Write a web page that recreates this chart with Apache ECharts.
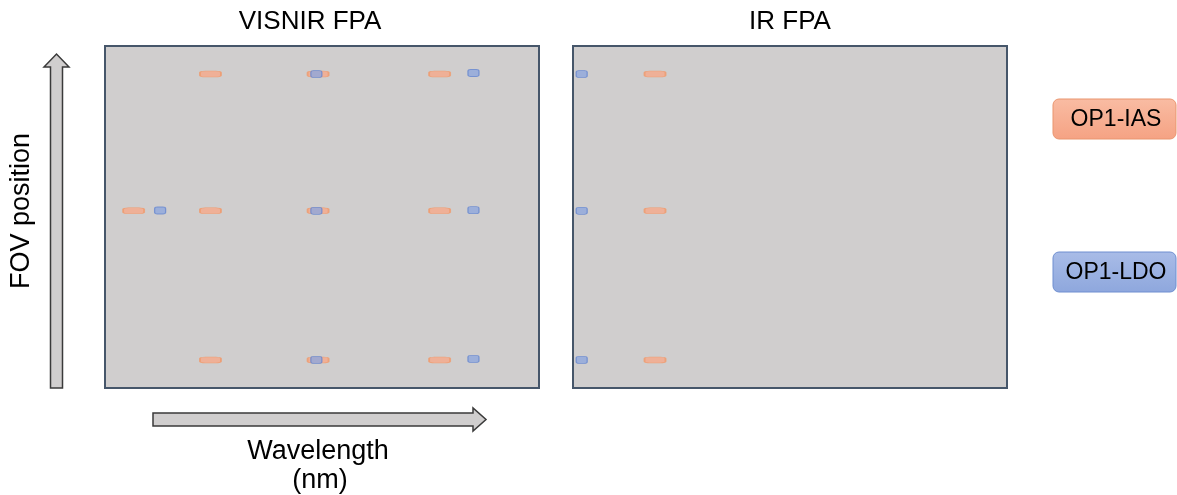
<!DOCTYPE html>
<html>
<head>
<meta charset="utf-8">
<script src="https://cdn.jsdelivr.net/npm/echarts@6/dist/echarts.min.js"></script>
<style>
html,body{margin:0;padding:0;background:#fff;}
#chart{width:1177px;height:495px;}
</style>
</head>
<body>
<div id="chart"></div>
<script>
// Relative positions on each focal plane array (0-100 across, 0-100 along FOV)
const panelTitles = ['VISNIR FPA', 'IR FPA'];
const legendLabels = ['OP1-IAS', 'OP1-LDO'];
// VISNIR FPA
const visnirIasX = [24.3, 49.1, 77.1, 6.6, 24.3, 49.1, 77.1, 24.3, 49.1, 77.1];
const visnirIasY = [91.8, 91.8, 91.8, 51.8, 51.8, 51.8, 51.8, 8.2, 8.2, 8.2];
const visnirLdoX = [48.7, 84.9, 12.7, 48.7, 84.9, 48.7, 84.9];
const visnirLdoY = [91.8, 92.1, 51.9, 51.8, 52.0, 8.2, 8.5];
// IR FPA
const irIasX = [18.9, 18.9, 18.9];
const irIasY = [91.8, 51.8, 8.2];
const irLdoX = [2.0, 2.0, 2.0];
const irLdoY = [91.8, 51.8, 8.2];

const zip = (xs, ys) => xs.map((x, i) => [x, ys[i]]);

const FONT = '"Liberation Sans", Arial, sans-serif';
const iasStyle = {color: '#f6a98a', borderColor: '#ef9a6c', borderWidth: 1};
const ldoStyle = {color: '#8ea7dd', borderColor: '#6787cf', borderWidth: 1};

const chart = echarts.init(document.getElementById('chart'));
const gridBase = {show: true, backgroundColor: '#d0cece', borderColor: '#46566a', borderWidth: 2, top: 46, height: 342, width: 434};
const axX = i => ({type: 'value', gridIndex: i, min: 0, max: 100, show: false, splitLine: {show: false}});
const axY = i => ({type: 'value', gridIndex: i, min: 0, max: 100, show: false, splitLine: {show: false}});

const scatter = (name, data, i, size, style, z) => ({
  type: 'scatter', name, data: data, xAxisIndex: i, yAxisIndex: i,
  symbol: 'roundRect', symbolSize: size, itemStyle: style, z: z, silent: true,
  animation: false
});

chart.setOption({
  animation: false,
  grid: [
    Object.assign({}, gridBase, {left: 105}),
    Object.assign({}, gridBase, {left: 573})
  ],
  xAxis: [axX(0), axX(1)],
  yAxis: [axY(0), axY(1)],
  series: [
    scatter(legendLabels[0], zip(visnirIasX, visnirIasY), 0, [21, 6], iasStyle, 2),
    scatter(legendLabels[1], zip(visnirLdoX, visnirLdoY), 0, [11, 7], ldoStyle, 3),
    scatter(legendLabels[0], zip(irIasX, irIasY), 1, [21, 6], iasStyle, 2),
    scatter(legendLabels[1], zip(irLdoX, irLdoY), 1, [11, 7], ldoStyle, 3)
  ],
  graphic: [
    {type: 'text', x: 310, y: 22, style: {text: panelTitles[0], font: '26px ' + FONT, fill: '#000', textAlign: 'center', textVerticalAlign: 'middle'}},
    {type: 'text', x: 790, y: 22, style: {text: panelTitles[1], font: '26px ' + FONT, fill: '#000', textAlign: 'center', textVerticalAlign: 'middle'}},
    {type: 'text', x: 22, y: 211, rotation: Math.PI / 2, style: {text: 'FOV position', font: '27px ' + FONT, fill: '#000', textAlign: 'center', textVerticalAlign: 'middle'}},
    {type: 'text', x: 318, y: 452, style: {text: 'Wavelength', font: '27px ' + FONT, fill: '#000', textAlign: 'center', textVerticalAlign: 'middle'}},
    {type: 'text', x: 320, y: 481, style: {text: '(nm)', font: '27px ' + FONT, fill: '#000', textAlign: 'center', textVerticalAlign: 'middle'}},
    // vertical arrow
    {type: 'polygon', shape: {points: [[50.5, 388], [62.5, 388], [62.5, 67], [69, 67], [56.5, 54], [44, 67], [50.5, 67]]},
      style: {fill: '#d0cece', stroke: '#3a3a3a', lineWidth: 1.5}},
    // horizontal arrow
    {type: 'polygon', shape: {points: [[153, 413], [153, 426], [473, 426], [473, 431], [486, 419.5], [473, 408], [473, 413]]},
      style: {fill: '#d0cece', stroke: '#3a3a3a', lineWidth: 1.5}},
    // legend boxes
    {type: 'rect', shape: {x: 1053, y: 99, width: 123, height: 40, r: 6},
      style: {fill: new echarts.graphic.LinearGradient(0, 0, 0, 1, [{offset: 0, color: '#f9bca3'}, {offset: 1, color: '#f5a283'}]), stroke: '#e9956f', lineWidth: 1}},
    {type: 'text', x: 1116, y: 120, style: {text: legendLabels[0], font: '23px ' + FONT, fill: '#000', textAlign: 'center', textVerticalAlign: 'middle'}},
    {type: 'rect', shape: {x: 1053, y: 252, width: 123, height: 40, r: 6},
      style: {fill: new echarts.graphic.LinearGradient(0, 0, 0, 1, [{offset: 0, color: '#a9bce7'}, {offset: 1, color: '#8ea7dd'}]), stroke: '#6e8ed0', lineWidth: 1}},
    {type: 'text', x: 1116, y: 273, style: {text: legendLabels[1], font: '23px ' + FONT, fill: '#000', textAlign: 'center', textVerticalAlign: 'middle'}}
  ]
});
</script>
</body>
</html>
